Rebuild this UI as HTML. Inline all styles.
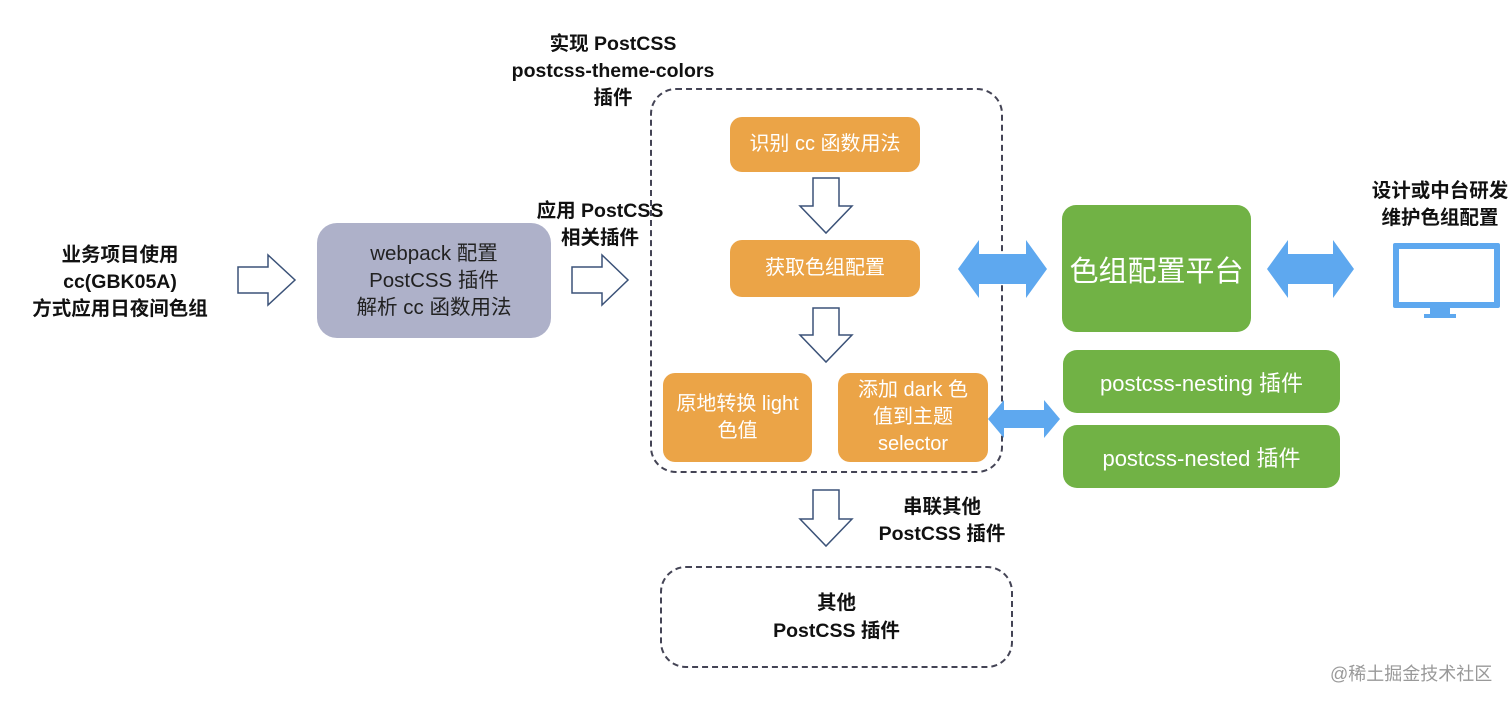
<!DOCTYPE html>
<html><head><meta charset="utf-8"><style>
body{margin:0;width:1512px;height:703px;background:#fff;position:relative;overflow:hidden;font-family:"Liberation Sans","Noto Sans CJK SC",sans-serif;}
.a{position:absolute;display:flex;align-items:center;justify-content:center;text-align:center;box-sizing:border-box}
.t{position:absolute;text-align:center;font-weight:bold;font-size:19.5px;line-height:27px;color:#111;white-space:nowrap}
.o{background:#eba447;color:#fff;border-radius:12px;font-size:20px;line-height:27px}
.g{background:#71b245;color:#fff;border-radius:14px;font-size:22px}
</style></head><body>
<div class="t" style="left:0px;top:242px;width:240px;">业务项目使用<br>cc(GBK05A)<br>方式应用日夜间色组</div>
<div class="a" style="left:317px;top:223px;width:234px;height:115px;background:#aeb1c9;border-radius:20px;font-size:20.5px;line-height:27px;color:#222">webpack 配置<br>PostCSS 插件<br>解析 cc 函数用法</div>
<div class="t" style="left:510px;top:198px;width:180px;">应用 PostCSS<br>相关插件</div>
<div class="t" style="left:493px;top:31px;width:240px;">实现 PostCSS<br>postcss-theme-colors<br>插件</div>
<div style="position:absolute;left:650px;top:88px;width:353px;height:385px;border:2px dashed #445;border-radius:26px;box-sizing:border-box"></div>
<div class="a o" style="left:730px;top:117px;width:190px;height:55px;">识别 cc 函数用法</div>
<div class="a o" style="left:730px;top:240px;width:190px;height:57px;">获取色组配置</div>
<div class="a o" style="left:663px;top:373px;width:149px;height:89px;">原地转换 light<br>色值</div>
<div class="a o" style="left:838px;top:373px;width:150px;height:89px;">添加 dark 色<br>值到主题<br>selector</div>
<div class="a g" style="left:1062px;top:205px;width:189px;height:127px;font-size:29px">色组配置平台</div>
<div class="a g" style="left:1063px;top:350px;width:277px;height:63px;">postcss-nesting 插件</div>
<div class="a g" style="left:1063px;top:425px;width:277px;height:63px;">postcss-nested 插件</div>
<div class="t" style="left:1355px;top:178px;width:170px;">设计或中台研发<br>维护色组配置</div>
<div class="t" style="left:852px;top:494px;width:180px;">串联其他<br>PostCSS 插件</div>
<div class="a" style="left:660px;top:566px;width:353px;height:102px;border:2px dashed #445;border-radius:26px;font-weight:bold;font-size:19.5px;line-height:28px;color:#111">其他<br>PostCSS 插件</div>
<div style="position:absolute;left:1330px;top:660px;font-size:18px;color:#999">@稀土掘金技术社区</div>
<svg width="1512" height="703" style="position:absolute;left:0;top:0" fill="none">
<g stroke="#3b5278" stroke-width="1.5" fill="#fff">
<path d="M238 267H268V255L295 280L268 305V293H238Z"/>
<path d="M572 267H602V255L628 280L602 305V293H572Z"/>
<path d="M813 178V206H800L826 233L852 206H839V178Z"/>
<path d="M813 308V335H800L826 362L852 335H839V308Z"/>
<path d="M813 490V519H800L826 546L852 519H839V490Z"/>
</g>
<g fill="#5ea8ef">
<path d="M958 269L979 240V254H1026V240L1047 269L1026 298V284H979V298Z"/>
<path d="M1267 269L1288 240V254H1333V240L1354 269L1333 298V284H1288V298Z"/>
<path d="M988 419L1004 400V410H1044V400L1060 419L1044 438V428H1004V438Z"/>
<rect x="1393" y="243" width="107" height="65" rx="2"/>
<rect x="1430" y="308" width="20" height="7"/>
<rect x="1424" y="314" width="32" height="4"/>
</g>
<rect x="1399" y="249" width="95" height="53" fill="#fff"/>
</svg>
</body></html>
